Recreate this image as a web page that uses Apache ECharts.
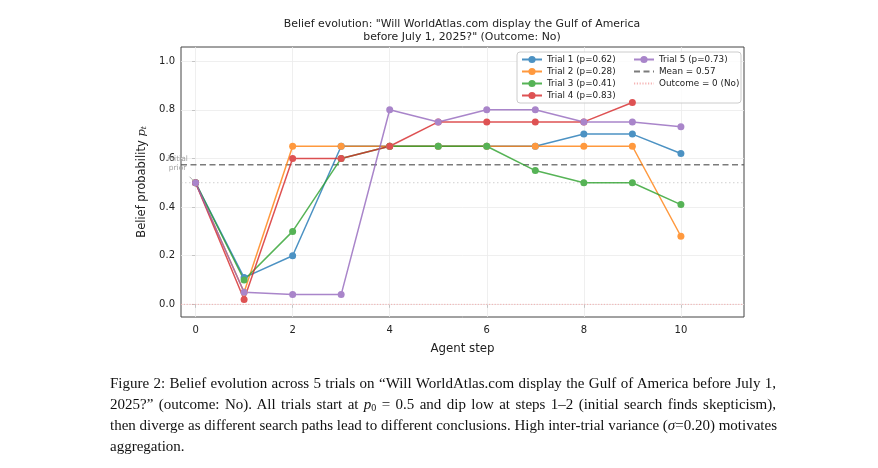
<!DOCTYPE html>
<html>
<head>
<meta charset="utf-8">
<script src="https://cdn.jsdelivr.net/npm/echarts@6/dist/echarts.min.js"></script>
<style>
  html, body { margin: 0; padding: 0; background: #fff; }
  #chart { position: absolute; left: 0; top: 0; width: 878px; height: 468px; }
  #caption {
    position: absolute; left: 110px; top: 373px; width: 666px;
    font-family: 'Liberation Serif', 'DejaVu Serif', serif; font-size: 15px; line-height: 21px; color: #111;
  }
  #caption .ln { text-align: justify; text-align-last: justify; white-space: nowrap; }
  #caption .last { text-align: left; text-align-last: left; }
  #caption i { font-style: italic; }
  #caption sub { font-size: 10px; vertical-align: -2px; line-height: 0; }
</style>
</head>
<body>
<div id="chart"></div>
<div id="caption">
  <div class="ln">Figure 2: Belief evolution across 5 trials on “Will WorldAtlas.com display the Gulf of America before July 1,</div>
  <div class="ln">2025?” (outcome: No). All trials start at <i>p</i><sub>0</sub> = 0.5 and dip low at steps 1–2 (initial search finds skepticism),</div>
  <div class="ln">then diverge as different search paths lead to different conclusions. High inter-trial variance (<i>σ</i>=0.20) motivates</div>
  <div class="ln last">aggregation.</div>
</div>
<script>
// values
const steps = [0, 1, 2, 3, 4, 5, 6, 7, 8, 9, 10]
const trial1 = [0.5, 0.11, 0.2, 0.65, 0.65, 0.65, 0.65, 0.65, 0.7, 0.7, 0.62]
const trial2 = [0.5, 0.05, 0.65, 0.65, 0.65, 0.65, 0.65, 0.65, 0.65, 0.65, 0.28]
const trial3 = [0.5, 0.1, 0.3, 0.6, 0.65, 0.65, 0.65, 0.55, 0.5, 0.5, 0.41]
const trial4 = [0.5, 0.02, 0.6, 0.6, 0.65, 0.75, 0.75, 0.75, 0.75, 0.83]
const trial5 = [0.5, 0.05, 0.04, 0.04, 0.8, 0.75, 0.8, 0.8, 0.75, 0.75, 0.73]
const trialNames = ['Trial 1 (p=0.62)', 'Trial 2 (p=0.28)', 'Trial 3 (p=0.41)', 'Trial 4 (p=0.83)', 'Trial 5 (p=0.73)']
const meanName = 'Mean = 0.57'
const outcomeName = 'Outcome = 0 (No)'
const meanValue = 0.574
const outcomeValue = 0
const priorValue = 0.5
const xTicks = [0, 2, 4, 6, 8, 10]
const yTicks = [0, 0.2, 0.4, 0.6, 0.8, 1.0]
const xRange = [-0.3, 11.3]
const yRange = [-0.052, 1.058]

const colors = ['#1f77b4', '#ff7f0e', '#2ca02c', '#d62728', '#9467bd']
const font = 'DejaVu Sans'

var myChart = echarts.init(document.getElementById('chart'), null, { renderer: 'canvas' })

function toPairs(vals) {
  return vals.map((v, i) => [steps[i], v])
}

// colour as it looks at alpha 0.8 on white
function fade(hex, a) {
  let n = parseInt(hex.slice(1), 16)
  let c = [(n >> 16) & 255, (n >> 8) & 255, n & 255].map(v => Math.round(v * a + 255 * (1 - a)))
  return 'rgb(' + c.join(',') + ')'
}

function trialSeries(name, vals, color) {
  return {
    name: name,
    type: 'line',
    data: toPairs(vals),
    symbol: 'circle',
    symbolSize: 7,
    color: fade(color, 0.8),
    itemStyle: { color: fade(color, 0.8), borderWidth: 0 },
    lineStyle: { color: color, width: 1.5, opacity: 0.8 },
    emphasis: { disabled: true },
    animation: false,
    z: 3
  }
}

function hLine(name, y, color, type, width) {
  return {
    name: name,
    type: 'line',
    data: [[xRange[0], y], [xRange[1], y]],
    symbol: 'none',
    color: color,
    lineStyle: { color: color, type: type, width: width },
    emphasis: { disabled: true },
    animation: false,
    z: 2
  }
}

let series = []
// grid lines, kept under everything else
series.push({
  type: 'line', data: [], silent: true, animation: false, z: 1,
  markLine: {
    z: 1,
    silent: true, symbol: 'none', label: { show: false }, animation: false,
    lineStyle: { color: '#ebebeb', type: 'solid', width: 0.8 },
    data: xTicks.map(v => ({ xAxis: v })).concat(yTicks.map(v => ({ yAxis: v })))
  }
})
series.push(hLine('prior', priorValue, 'rgba(170,170,170,0.55)', [1.5, 2.5], 1))
series.push(hLine(meanName, meanValue, 'rgba(90,90,90,0.8)', [6, 3.5], 1.6))
series.push(hLine(outcomeName, outcomeValue, 'rgba(240,130,130,0.6)', [1.2, 1.6], 1))
const trials = [trial1, trial2, trial3, trial4, trial5]
trials.forEach((t, i) => series.push(trialSeries(trialNames[i], t, colors[i])))

const legendCommon = {
  orient: 'vertical',
  itemWidth: 20,
  itemHeight: 9,
  itemGap: 3,
  padding: 0,
  selectedMode: false,
  textStyle: { fontFamily: font, fontSize: 8.8, color: '#222' }
}
const noDot = { itemStyle: { opacity: 0 } }

let option = {
  backgroundColor: '#fff',
  animation: false,
  title: {
    text: 'Belief evolution: "Will WorldAtlas.com display the Gulf of America\nbefore July 1, 2025?" (Outcome: No)',
    left: 457, top: 13, textAlign: 'center',
    textStyle: { fontFamily: font, fontSize: 10.9, fontWeight: 'normal', color: '#222', lineHeight: 13 }
  },
  grid: {
    left: 181, right: 134, top: 47, bottom: 151,
    show: true, borderColor: '#444', borderWidth: 1, backgroundColor: 'transparent'
  },
  legend: [
    Object.assign({}, legendCommon, { left: 521, top: 55, data: trialNames.slice(0, 4) }),
    Object.assign({}, legendCommon, { left: 633, top: 55, data: [
      trialNames[4],
      Object.assign({ name: meanName }, noDot),
      Object.assign({ name: outcomeName }, noDot)
    ] })
  ],
  xAxis: {
    type: 'value', min: xRange[0], max: xRange[1],
    name: 'Agent step', nameLocation: 'middle', nameGap: 26,
    nameTextStyle: { fontFamily: font, fontSize: 11.8, color: '#222' },
    axisLine: { show: false },
    splitLine: { show: false },
    axisTick: { show: true, customValues: xTicks, length: 3.5, lineStyle: { color: '#333' } },
    axisLabel: { customValues: xTicks, fontFamily: font, fontSize: 10, color: '#222', margin: 8 }
  },
  yAxis: {
    type: 'value', min: yRange[0], max: yRange[1],
    name: '{a|Belief probability }{i|p}{s|t}', nameLocation: 'middle', nameGap: 28,
    nameTextStyle: {
      fontFamily: font, fontSize: 11.5, color: '#222',
      rich: {
        a: { fontFamily: font, fontSize: 11.5, color: '#222' },
        i: { fontFamily: 'DejaVu Serif', fontStyle: 'italic', fontSize: 11.5, color: '#222' },
        s: { fontFamily: 'DejaVu Serif', fontStyle: 'italic', fontSize: 7.5, color: '#222', padding: [5, 0, 0, 0] }
      }
    },
    axisLine: { show: false },
    splitLine: { show: false },
    axisTick: { show: true, customValues: yTicks, length: 3.5, lineStyle: { color: '#333' } },
    axisLabel: { customValues: yTicks, fontFamily: font, fontSize: 10, color: '#222', margin: 6,
      formatter: v => v.toFixed(1) }
  },
  series: series
}

myChart.setOption(option)

// legend frame + "initial prior" note, placed from the chart's own scale
const p0 = myChart.convertToPixel({ gridIndex: 0 }, [steps[0], priorValue])
myChart.setOption({
  graphic: [
    {
      type: 'rect', z: 3, silent: true,
      shape: { x: 517, y: 52, width: 224, height: 51, r: 3 },
      style: { fill: 'rgba(255,255,255,0.8)', stroke: '#cccccc', lineWidth: 1 }
    },
    {
      type: 'text', z: 1, silent: true,
      x: p0[0] - 18, y: p0[1] - 28,
      style: { text: 'initial\nprior', fill: '#a0a0a0', font: '7.5px "DejaVu Sans"', align: 'center', lineHeight: 9 }
    },
    {
      type: 'line', z: 5, silent: true,
      shape: { x1: p0[0] - 6, y1: p0[1] - 6, x2: p0[0] - 2, y2: p0[1] - 2 },
      style: { stroke: '#a0a0a0', lineWidth: 0.8 }
    }
  ]
})
</script>
</body>
</html>
